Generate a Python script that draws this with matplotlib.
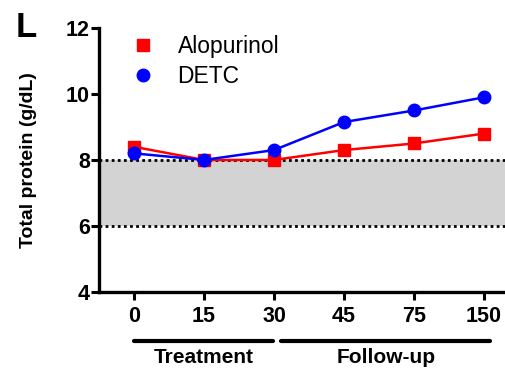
import matplotlib
matplotlib.use('Agg')
import matplotlib.pyplot as plt
from matplotlib.lines import Line2D
import numpy as np

plt.rcParams['font.family'] = ['Liberation Sans', 'DejaVu Sans']

days = ['0', '15', '30', '45', '75', '150']
alopurinol = [8.4, 8.0, 8.0, 8.3, 8.5, 8.8]
detc = [8.2, 8.0, 8.3, 9.15, 9.5, 9.9]
ref_low, ref_high = 6, 8

x = np.arange(len(days))

fig = plt.figure(figsize=(5.05, 3.69), dpi=100)
ax = fig.add_axes([0.196, 0.209, 0.804, 0.715])

# reference range
ax.axhspan(ref_low, ref_high, color='#d3d3d3', lw=0, zorder=0)
ax.axhline(ref_low, color='k', lw=2, ls=(0, (1, 1.2)), zorder=1)
ax.axhline(ref_high, color='k', lw=2, ls=(0, (1, 1.2)), zorder=1)

ax.plot(x, alopurinol, color='#ff0000', lw=1.8, marker='s', ms=8.5, zorder=3, clip_on=False)
ax.plot(x, detc, color='#0000ff', lw=1.8, marker='o', ms=9, zorder=4, clip_on=False)

ax.set_xlim(-0.5, 5.3)
ax.set_ylim(4, 12)
ax.set_yticks([4, 6, 8, 10, 12])
ax.set_xticks(x)
ax.set_xticklabels(days)

for s in ['top', 'right']:
    ax.spines[s].set_visible(False)
for s in ['left', 'bottom']:
    ax.spines[s].set_linewidth(2.4)
ax.tick_params(width=2.2, length=6, labelsize=15.5, direction='out')
ax.tick_params(axis='y', pad=0.5)
ax.tick_params(axis='x', pad=4)
for lab in ax.get_xticklabels() + ax.get_yticklabels():
    lab.set_fontweight('bold')

ax.set_ylabel('Total protein (g/dL)', fontsize=14, fontweight='bold', labelpad=21)

# period bars under the axis
trans = ax.get_xaxis_transform()
ax.plot([0, 1.99], [-0.186, -0.186], transform=trans, color='k', lw=3,
        solid_capstyle='round', clip_on=False)
ax.plot([2.1, 5.09], [-0.186, -0.186], transform=trans, color='k', lw=3,
        solid_capstyle='round', clip_on=False)
ax.text(1.0, -0.25, 'Treatment', transform=trans, ha='center', va='center',
        fontsize=15, fontweight='bold')
ax.text(3.6, -0.25, 'Follow-up', transform=trans, ha='center', va='center',
        fontsize=15, fontweight='bold')

handles = [Line2D([], [], color='#ff0000', marker='s', ms=8.5, ls='none'),
           Line2D([], [], color='#0000ff', marker='o', ms=9, ls='none')]
ax.legend(handles, ['Alopurinol', 'DETC'], loc='upper left',
          bbox_to_anchor=(0.03, 1.05), frameon=False, fontsize=16.5,
          handlelength=1.0, handletextpad=1.0, labelspacing=0.3)

fig.text(0.03, 0.925, 'L', fontsize=25, fontweight='bold', va='center', ha='left')

fig.savefig('out.png', dpi=100)
